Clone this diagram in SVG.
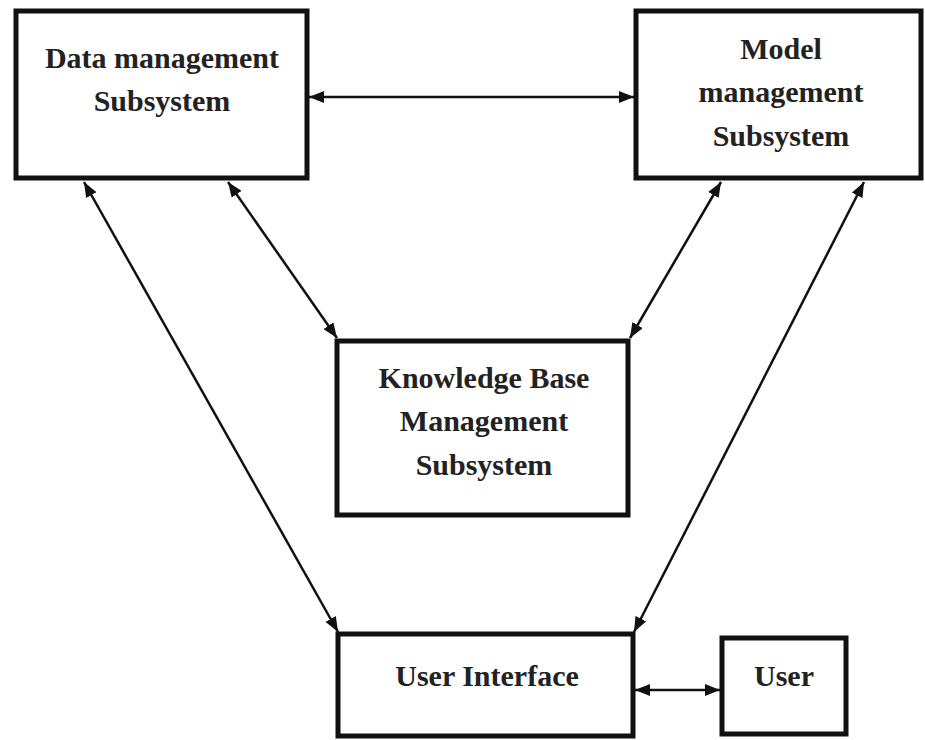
<svg xmlns="http://www.w3.org/2000/svg" width="925" height="740" viewBox="0 0 925 740">
<style>
.box{fill:#fff;stroke:#111;stroke-width:5}
.lbl{font-family:"Liberation Serif","Times New Roman",serif;font-weight:bold;font-size:30px;fill:#222;text-anchor:middle}
.con{stroke:#111;stroke-width:2.5;fill:none;marker-start:url(#ah);marker-end:url(#ah)}
</style>
<defs>
<marker id="ah" markerUnits="userSpaceOnUse" markerWidth="16" markerHeight="12" refX="15" refY="6" orient="auto-start-reverse">
<path d="M0,0 L15,6 L0,12 z" fill="#111"/>
</marker>
</defs>
<rect width="925" height="740" fill="#fff"/>
<g id="connectors">
<line class="con" x1="309" y1="97" x2="634" y2="97"/>
<line class="con" x1="84" y1="182" x2="338" y2="632"/>
<line class="con" x1="228" y1="182" x2="337" y2="338"/>
<line class="con" x1="721" y1="182" x2="630" y2="338"/>
<line class="con" x1="864" y1="182" x2="634" y2="632"/>
<line class="con" x1="635" y1="690" x2="720" y2="690"/>
</g>
<g id="data">
<rect class="box" x="16" y="11" width="291" height="167"/>
<text class="lbl" x="162" y="68">Data management</text>
<text class="lbl" x="162" y="111">Subsystem</text>
</g>
<g id="model">
<rect class="box" x="636" y="11" width="285" height="167"/>
<text class="lbl" x="781" y="59">Model</text>
<text class="lbl" x="781" y="102">management</text>
<text class="lbl" x="781" y="146">Subsystem</text>
</g>
<g id="kb">
<rect class="box" x="337" y="341" width="291" height="174"/>
<text class="lbl" x="484" y="388">Knowledge Base</text>
<text class="lbl" x="484" y="431">Management</text>
<text class="lbl" x="484" y="475">Subsystem</text>
</g>
<g id="ui">
<rect class="box" x="338" y="634" width="295" height="102"/>
<text class="lbl" x="487" y="686">User Interface</text>
</g>
<g id="user">
<rect class="box" x="722" y="638" width="124" height="96"/>
<text class="lbl" x="784" y="686">User</text>
</g>
</svg>
